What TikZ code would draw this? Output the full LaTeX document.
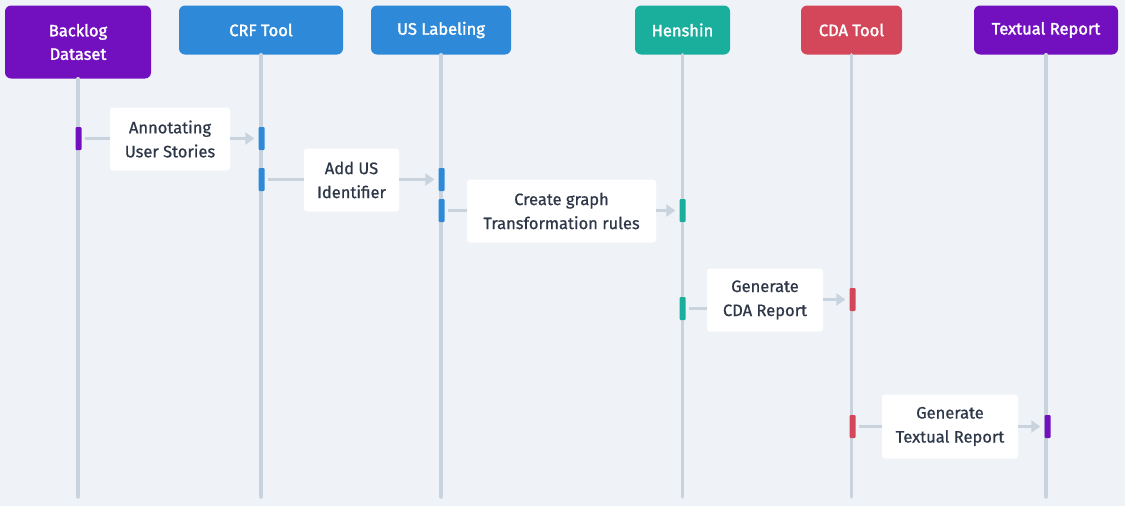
\documentclass[tikz,border=0pt]{standalone}
\usepackage{fontspec}
\setmainfont{Fira Sans}
\newfontfamily\labfont{Fira Sans}[FakeBold=0.7]
\newfontfamily\hdrfont{Fira Sans}[FakeBold=1.8]
\usetikzlibrary{arrows.meta}
\definecolor{bg}{RGB}{239,243,247}
\definecolor{cpurple}{RGB}{114,16,192}
\definecolor{cblue}{RGB}{46,138,217}
\definecolor{cteal}{RGB}{26,174,156}
\definecolor{cred}{RGB}{212,71,90}
\definecolor{cline}{RGB}{200,211,221}
\definecolor{ctext}{RGB}{45,55,72}
\tikzset{
  hdr/.style={rounded corners=6pt, inner sep=0pt, text=white, align=center,
    font=\hdrfont\fontsize{16.5}{23.5}\selectfont},
  lab/.style={fill=white, rounded corners=3pt, inner sep=0pt, text=ctext, align=center,
    font=\labfont\fontsize{16.5}{24}\selectfont},
  act/.style={rounded corners=1pt, inner sep=0pt, minimum width=6pt, minimum height=23pt},
  life/.style={cline, line width=3.5pt, line cap=round},
  msg/.style={cline, line width=3.5pt},
  arr/.style={cline, line width=3.5pt, -{Triangle[length=9pt,width=12pt]}},
}
\begin{document}
\begin{tikzpicture}[x=1pt,y=-1pt]
\fill[bg] (0,0) rectangle (1125,506);
\useasboundingbox (0,0) rectangle (1125,506);
\coordinate (bot) at (0,497);
% headers
\node[hdr, fill=cpurple, minimum width=146pt, minimum height=73pt] (bk) at (78,42) {Backlog\\Dataset};
\node[hdr, fill=cblue, minimum width=164pt, minimum height=49pt] (crf) at (261,30) {CRF Tool};
\node[hdr, fill=cblue, minimum width=140pt, minimum height=49pt] (us) at (441,30) {US Labeling};
\node[hdr, fill=cteal, minimum width=95pt, minimum height=49pt] (hen) at (682.5,30) {Henshin};
\node[hdr, fill=cred, minimum width=101pt, minimum height=49pt] (cda) at (851.5,30) {CDA Tool};
\node[hdr, fill=cpurple, minimum width=144pt, minimum height=49pt] (tr) at (1046,30) {Textual Report};
% lifelines
\draw[life] (bk.south) -- (bk.south |- bot);
\draw[life] (crf.south) -- (crf.south |- bot);
\draw[life] (us.south) -- (us.south |- bot);
\draw[life] (hen.south) -- (hen.south |- bot);
\draw[life] (cda.south) -- (cda.south |- bot);
\draw[life] (tr.south) -- (tr.south |- bot);
% activation bars
\node[act, fill=cpurple] (a1) at (78.5,138.5) {};
\node[act, fill=cblue] (b1) at (261.5,138.5) {};
\node[act, fill=cblue] (b2) at (261.5,179.5) {};
\node[act, fill=cblue] (c1) at (441.5,179.5) {};
\node[act, fill=cblue] (c2) at (441.5,210.5) {};
\node[act, fill=cteal] (d1) at (682.5,210.5) {};
\node[act, fill=cteal] (d2) at (682.5,308.5) {};
\node[act, fill=cred] (e1) at (852.5,299.5) {};
\node[act, fill=cred] (e2) at (852.5,426.5) {};
\node[act, fill=cpurple] (f1) at (1047.5,426.5) {};
% labels
\node[lab, minimum width=120pt, minimum height=63pt] (l1) at (170,139) {Annotating\\User Stories};
\node[lab, minimum width=95pt, minimum height=63pt] (l2) at (351.5,180) {Add US\\Identifier};
\node[lab, minimum width=189pt, minimum height=63pt] (l3) at (561.5,211) {Create graph\\Transformation rules};
\node[lab, minimum width=116pt, minimum height=63pt] (l4) at (765,300) {Generate\\CDA Report};
\node[lab, minimum width=136pt, minimum height=64pt] (l5) at (950,426.5) {Generate\\Textual Report};
% messages
\draw[msg] ([xshift=3pt]a1.east) -- (a1.east -| l1.west);
\draw[arr] (l1.east |- b1.west) -- ([xshift=-4pt]b1.west);
\draw[msg] ([xshift=3pt]b2.east) -- (b2.east -| l2.west);
\draw[arr] (l2.east |- c1.west) -- ([xshift=-4pt]c1.west);
\draw[msg] ([xshift=3pt]c2.east) -- (c2.east -| l3.west);
\draw[arr] (l3.east |- d1.west) -- ([xshift=-4pt]d1.west);
\draw[msg] ([xshift=3pt]d2.east) -- (d2.east -| l4.west);
\draw[arr] (l4.east |- e1.west) -- ([xshift=-4pt]e1.west);
\draw[msg] ([xshift=3pt]e2.east) -- (e2.east -| l5.west);
\draw[arr] (l5.east |- f1.west) -- ([xshift=-4pt]f1.west);
\end{tikzpicture}
\end{document}
